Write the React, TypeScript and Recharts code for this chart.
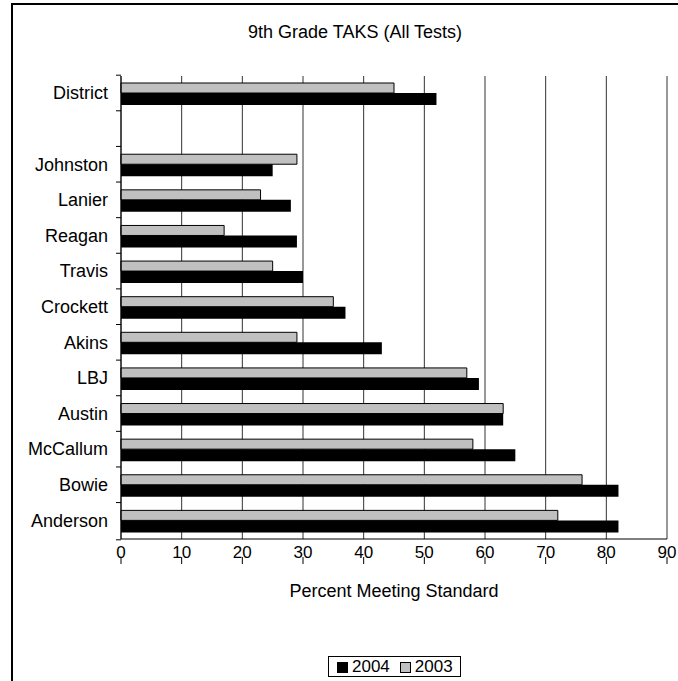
import React from "react";
import { Bar, BarChart, CartesianGrid, Legend, XAxis, YAxis } from "recharts";

const categories = [
  "District",
  "",
  "Johnston",
  "Lanier",
  "Reagan",
  "Travis",
  "Crockett",
  "Akins",
  "LBJ",
  "Austin",
  "McCallum",
  "Bowie",
  "Anderson",
];
const values2004 = [52, null, 25, 28, 29, 30, 37, 43, 59, 63, 65, 82, 82];
const values2003 = [45, null, 29, 23, 17, 25, 35, 29, 57, 63, 58, 76, 72];
const xTicks = [0, 10, 20, 30, 40, 50, 60, 70, 80, 90];

const data = categories.map((name, i) => ({
  name,
  y2004: values2004[i],
  y2003: values2003[i],
}));

const FONT = "'Liberation Sans', Arial, sans-serif";
const PLOT_LEFT = 121;
const PLOT_TOP = 76;
const PLOT_BOTTOM = 560;
const Y_AXIS_W = 110;
const X_AXIS_H = 30;
const BAND = (PLOT_BOTTOM - PLOT_TOP) / categories.length;

// excel-style ticks: between categories, not at their centres
function CategoryTick(props: any) {
  const { y, payload, index } = props;
  const top = y - BAND / 2;
  const bottom = y + BAND / 2;
  return (
    <g>
      <text
        x={PLOT_LEFT - 13}
        y={y - 1}
        dy="0.36em"
        textAnchor="end"
        fontSize={18}
        fill="#000"
        fontFamily={FONT}
      >
        {payload.value}
      </text>
      <line x1={PLOT_LEFT - 5} x2={PLOT_LEFT} y1={top} y2={top} stroke="#000" />
      {index === categories.length - 1 && (
        <line x1={PLOT_LEFT - 5} x2={PLOT_LEFT} y1={bottom} y2={bottom} stroke="#000" />
      )}
    </g>
  );
}

// tick marks cross the axis line
function ValueTick(props: any) {
  const { x, y, payload } = props;
  return (
    <g>
      <line x1={x} x2={x} y1={PLOT_BOTTOM - 3} y2={PLOT_BOTTOM + 4} stroke="#000" />
      <text x={x} y={y} dy="0.71em" textAnchor="middle" fontSize={17} fill="#000" fontFamily={FONT}>
        {payload.value}
      </text>
    </g>
  );
}

function LegendBox() {
  const swatch = (fill: string) => (
    <span
      style={{
        display: "inline-block",
        width: 9,
        height: 9,
        background: fill,
        border: "1px solid #000",
        marginRight: 4,
        verticalAlign: "-1px",
      }}
    />
  );
  return (
    <div
      style={{
        boxSizing: "border-box",
        width: 133,
        height: 21,
        border: "1px solid #000",
        background: "#fff",
        paddingLeft: 8,
        fontSize: 17,
        fontFamily: FONT,
        color: "#000",
        lineHeight: "19px",
        whiteSpace: "nowrap",
      }}
    >
      {swatch("#000")}
      <span style={{ marginRight: 10 }}>2004</span>
      {swatch("#c0c0c0")}
      <span>2003</span>
    </div>
  );
}

export default function App() {
  return (
    <div
      style={{
        position: "absolute",
        left: 0,
        top: 0,
        width: 678,
        height: 681,
        overflow: "hidden",
        background: "#fff",
        fontFamily: FONT,
      }}
    >
      <div
        style={{
          position: "absolute",
          left: 11,
          top: 3,
          width: 720,
          height: 720,
          borderLeft: "2px solid #000",
          borderTop: "2px solid #000",
        }}
      />
      <div
        style={{
          position: "absolute",
          left: 248,
          width: 200,
          top: 22,
          textAlign: "center",
          fontSize: 18,
          color: "#000",
          whiteSpace: "nowrap",
        }}
      >
        9th Grade TAKS (All Tests)
      </div>
      <BarChart
        width={678}
        height={681}
        data={data}
        layout="vertical"
        barGap={0}
        margin={{
          top: PLOT_TOP,
          right: 11,
          bottom: 681 - PLOT_BOTTOM - X_AXIS_H,
          left: PLOT_LEFT - Y_AXIS_W,
        }}
      >
        <CartesianGrid horizontal={false} stroke="#333" />
        <XAxis
          type="number"
          domain={[0, 90]}
          ticks={xTicks}
          height={X_AXIS_H}
          tickSize={4}
          tickMargin={3}
          axisLine={{ stroke: "#000" }}
          tickLine={false}
          tick={<ValueTick />}
          label={{
            value: "Percent Meeting Standard",
            position: "bottom",
            offset: 15,
            fill: "#000",
            fontSize: 18,
            fontFamily: FONT,
          }}
        />
        <YAxis
          type="category"
          dataKey="name"
          width={Y_AXIS_W}
          interval={0}
          tickLine={false}
          axisLine={{ stroke: "#000" }}
          tick={<CategoryTick />}
        />
        <Legend
          content={() => <LegendBox />}
          wrapperStyle={{ position: "absolute", left: 328, top: 656, width: "auto" }}
        />
        <Bar dataKey="y2003" name="2003" fill="#c0c0c0" stroke="#000" strokeWidth={1} barSize={10} isAnimationActive={false} />
        <Bar dataKey="y2004" name="2004" fill="#000" barSize={12} isAnimationActive={false} />
      </BarChart>
    </div>
  );
}
